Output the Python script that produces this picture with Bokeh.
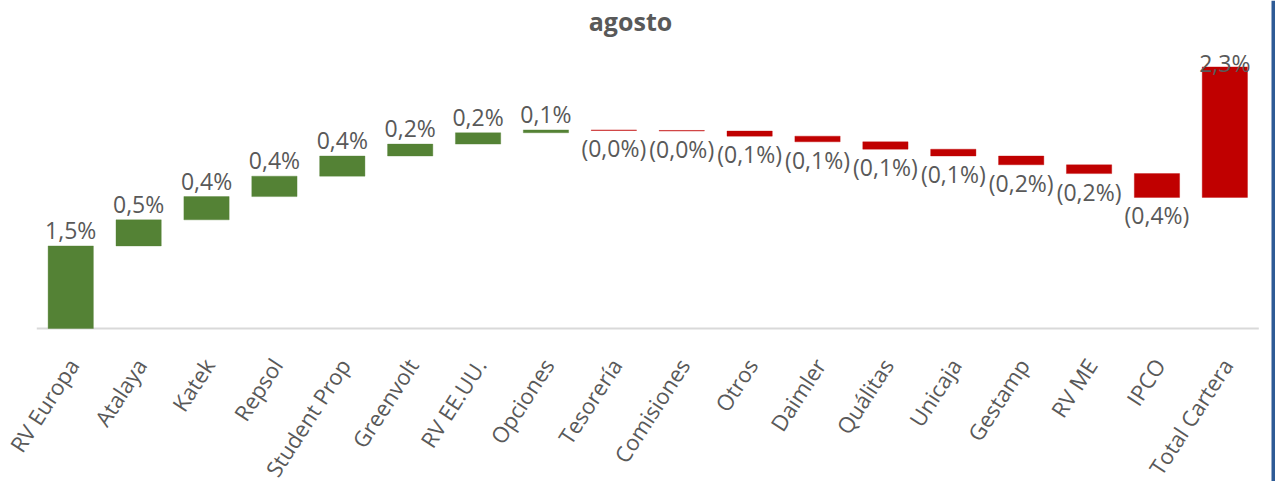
import math
import numpy as np
from bokeh.plotting import figure
from bokeh.models import ColumnDataSource, Range1d, Label, BoxAnnotation
from bokeh.core.properties import value
from bokeh.embed import file_html
from bokeh.resources import INLINE

# ---- data (contributions, % points) ----
categories = ["RV Europa", "Atalaya", "Katek", "Repsol", "Student Prop", "Greenvolt",
              "RV EE.UU.", "Opciones", "Tesorería", "Comisiones", "Otros", "Daimler",
              "Quálitas", "Unicaja", "Gestamp", "RV ME", "IPCO"]
contributions = [1.455, 0.46, 0.41, 0.36, 0.355, 0.21,
                 0.20, 0.05, -0.01, -0.01, -0.09, -0.10,
                 -0.13, -0.12, -0.155, -0.155, -0.42]
total_category = "Total Cartera"
total_value = 2.3
title_text = "agosto"

GREEN = "#548235"
RED = "#C00000"
TEXT = "#595959"
FONT = "Open Sans"


def fmt(v):
    s = f"{abs(v):.1f}".replace(".", ",") + "%"
    return f"({s})" if v < 0 else s


vals = np.array(contributions, dtype=float)
ends = np.cumsum(vals)
starts = ends - vals
bottoms = list(np.minimum(starts, ends))
tops = list(np.maximum(starts, ends))
colors = [GREEN if v > 0 else RED for v in contributions]
labels = [fmt(v) for v in contributions]
label_y = [t if v > 0 else b for v, t, b in zip(contributions, tops, bottoms)]
label_off = [-16 if v > 0 else 18 for v in contributions]

# Total bar drawn floating from the cumulative end, as in the original
tb = float(ends[-1])
cats_all = categories + [total_category]
bottoms.append(tb)
tops.append(tb + total_value)
colors.append(RED)
labels.append(fmt(total_value))
label_y.append(tb + total_value)
label_off.append(-3.5)

xs = list(range(len(cats_all)))
src = ColumnDataSource(dict(x=xs, cat=cats_all, bottom=bottoms, top=tops, color=colors,
                            label=labels, ly=label_y, yoff=label_off,
                            zero=[0.0] * len(xs)))

# layout: frame covers the whole canvas; category band 36..1258 px, zero line at y=328 px
W, H = 1275, 481
n = len(cats_all)
ppu_x = (1258.3 - 36.3) / n
x_start = -0.5 - 36.3 / ppu_x
x_end = n - 0.5 + (W - 1258.3) / ppu_x
ppu_y = 56.74
y_end = 328 / ppu_y
y_start = -(H - 328) / ppu_y

p = figure(x_range=Range1d(x_start, x_end), y_range=Range1d(y_start, y_end),
           width=W, height=H, output_backend="svg", toolbar_location=None,
           min_border_left=0, min_border_right=0, min_border_top=0, min_border_bottom=0)
p.background_fill_color = "white"
p.border_fill_color = "white"
p.outline_line_color = None
p.xgrid.visible = False
p.ygrid.visible = False
p.xaxis.visible = False
p.yaxis.visible = False

# baseline (category axis line)
p.segment(x0=-0.5, x1=n - 0.5, y0=0, y1=0, line_color="#D9D9D9", line_width=2)

p.vbar(x="x", bottom="bottom", top="top", width=0.667, fill_color="color",
       line_color="color", line_alpha=0.35, line_width=1, source=src)

# data labels
p.text(x="x", y="ly", text="label", y_offset="yoff", text_align="center",
       text_baseline="alphabetic", text_font=value(FONT), text_font_size="23px",
       text_color=TEXT, source=src)

# category labels
p.text(x="x", y="zero", text="cat", y_offset=32, x_offset=2, angle=math.radians(57),
       text_align="right", text_baseline="middle", text_font=value(FONT),
       text_font_size="22px", text_color=TEXT, source=src)

p.add_layout(Label(x=(630 - 36.3) / ppu_x - 0.5, y=(328 - 20.5) / ppu_y, text=title_text,
                   text_align="center", text_baseline="alphabetic", text_font=FONT,
                   text_font_size="25px", text_font_style="bold", text_color=TEXT))

p.add_layout(BoxAnnotation(left=1271, left_units="screen",
                           fill_color="#2E5B96", fill_alpha=1.0, line_color=None))

open("out.html", "w").write(file_html(p, INLINE))
